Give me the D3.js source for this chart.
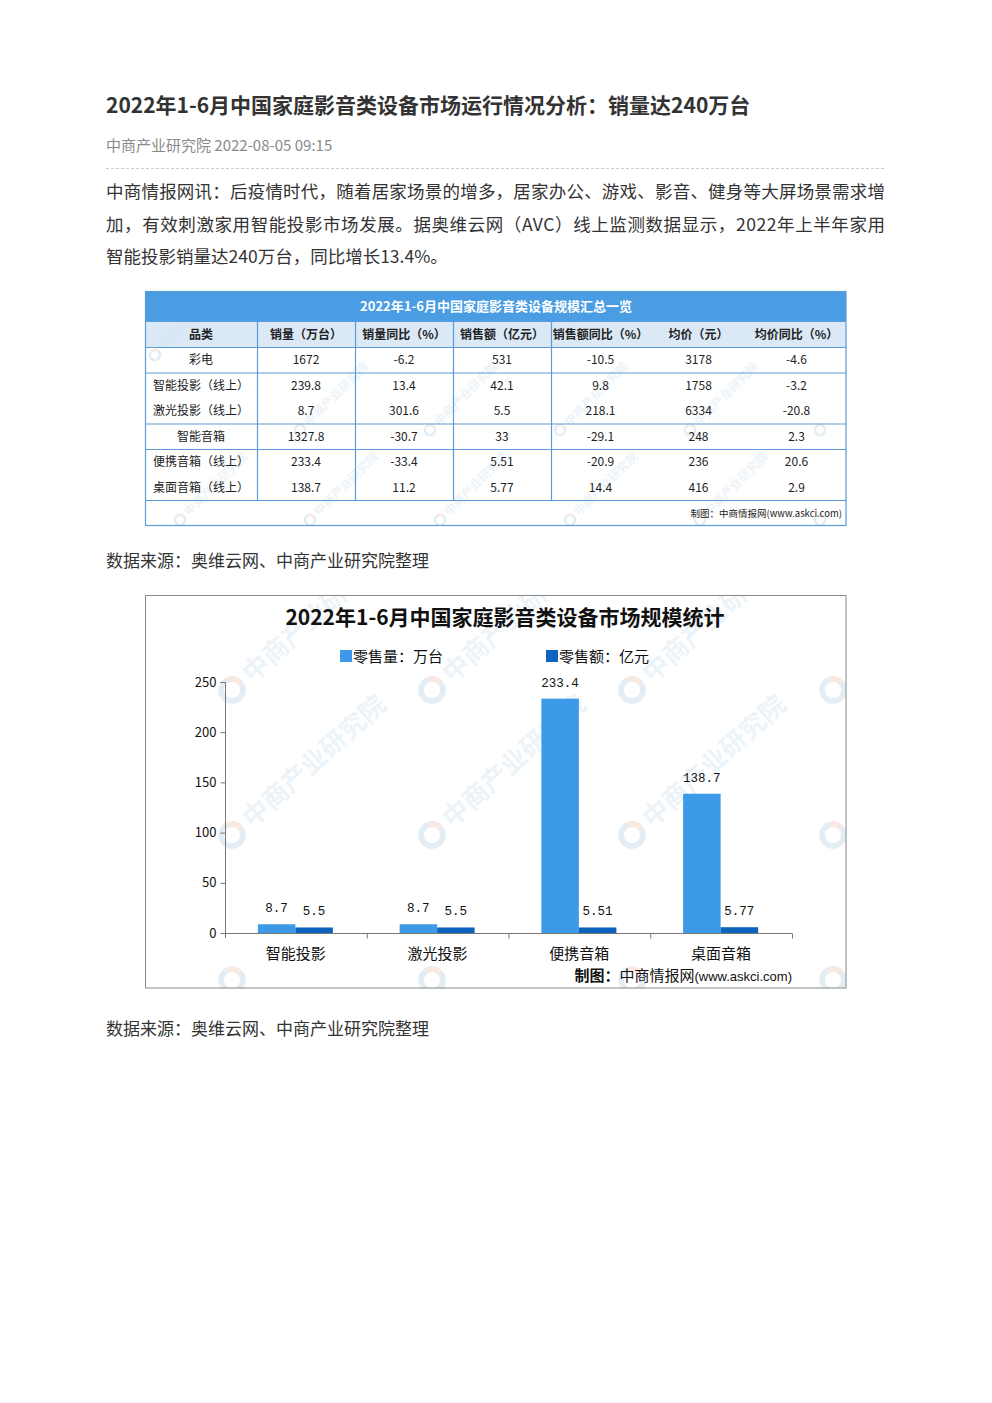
<!DOCTYPE html>
<html>
<head>
<meta charset="utf-8">
<script src="https://cdn.jsdelivr.net/npm/d3@7"></script>
<style>
  body { margin: 0; background: #fff; }
  svg { display: block; }
  .cjk { font-family: "Noto Sans CJK SC", "Noto Sans", sans-serif; }
  .mono { font-family: "Liberation Mono", "DejaVu Sans Mono", monospace; }
</style>
</head>
<body>
<svg id="page" width="992" height="1403"></svg>
<script>
// article text
const articleTitle = "2022年1-6月中国家庭影音类设备市场运行情况分析：销量达240万台";
const articleMeta = "中商产业研究院 2022-08-05 09:15";
const paragraphLines = [
  "中商情报网讯：后疫情时代，随着居家场景的增多，居家办公、游戏、影音、健身等大屏场景需求增",
  "加，有效刺激家用智能投影市场发展。据奥维云网（AVC）线上监测数据显示，2022年上半年家用",
  "智能投影销量达240万台，同比增长13.4%。"
];
const sourceNote = "数据来源：奥维云网、中商产业研究院整理";

// table
const tableTitle = "2022年1-6月中国家庭影音类设备规模汇总一览";
const tableHeaders = ["品类", "销量（万台）", "销量同比（%）", "销售额（亿元）", "销售额同比（%）", "均价（元）", "均价同比（%）"];
const tableRows = [
  ["彩电", "1672", "-6.2", "531", "-10.5", "3178", "-4.6"],
  ["智能投影（线上）", "239.8", "13.4", "42.1", "9.8", "1758", "-3.2"],
  ["激光投影（线上）", "8.7", "301.6", "5.5", "218.1", "6334", "-20.8"],
  ["智能音箱", "1327.8", "-30.7", "33", "-29.1", "248", "2.3"],
  ["便携音箱（线上）", "233.4", "-33.4", "5.51", "-20.9", "236", "20.6"],
  ["桌面音箱（线上）", "138.7", "11.2", "5.77", "14.4", "416", "2.9"]
];
const tableGroups = [[0], [1, 2], [3], [4, 5]];
const tableFooter = "制图：中商情报网(www.askci.com)";

// chart
const chartTitle = "2022年1-6月中国家庭影音类设备市场规模统计";
const categories = ["智能投影", "激光投影", "便携音箱", "桌面音箱"];
const seriesNames = ["零售量：万台", "零售额：亿元"];
const retailVolume = [8.7, 8.7, 233.4, 138.7];
const retailValue = [5.5, 5.5, 5.51, 5.77];
const volumeLabels = ["8.7", "8.7", "233.4", "138.7"];
const valueLabels = ["5.5", "5.5", "5.51", "5.77"];
const yTicks = [0, 50, 100, 150, 200, 250];
const chartCredit = "制图：";
const chartCreditSite = "中商情报网";
const chartCreditUrl = "(www.askci.com)";

const svg = d3.select("#page");
const defs = svg.append("defs");

// ---------- article header ----------
svg.append("text").attr("class", "cjk")
  .attr("x", 106).attr("y", 113)
  .attr("font-size", 21).attr("font-weight", 700).attr("fill", "#333")
  .text(articleTitle);

svg.append("text").attr("class", "cjk")
  .attr("x", 106).attr("y", 151)
  .attr("font-size", 15).attr("fill", "#8a8a8a")
  .text(articleMeta);

svg.append("line")
  .attr("x1", 106).attr("x2", 885).attr("y1", 168.5).attr("y2", 168.5)
  .attr("stroke", "#ccc").attr("stroke-dasharray", "3,2");

svg.selectAll("text.para").data(paragraphLines).enter()
  .append("text").attr("class", "para cjk")
  .attr("x", 106).attr("y", (d, i) => 198 + i * 32.5)
  .attr("font-size", 17.5).attr("fill", "#333")
  .each(function(d, i) {
    if (i < paragraphLines.length - 1) {
      d3.select(this).attr("textLength", 779).attr("lengthAdjust", "spacing");
    }
  })
  .text(d => d);

[567, 1035].forEach(y => {
  svg.append("text").attr("class", "cjk")
    .attr("x", 106).attr("y", y)
    .attr("font-size", 17).attr("fill", "#333")
    .text(sourceNote);
});

// watermark helper
function watermark(g, x, y, size, angle, withText) {
  const w = g.append("g")
    .attr("transform", "translate(" + x + "," + y + ") rotate(" + angle + ")")
    .attr("opacity", 0.4);
  w.append("circle").attr("cx", 0).attr("cy", 0).attr("r", size * 0.42)
    .attr("fill", "none").attr("stroke", "#b9d3e6").attr("stroke-width", size * 0.22);
  w.append("path")
    .attr("d", d3.arc()({innerRadius: size * 0.31, outerRadius: size * 0.53, startAngle: 0.3, endAngle: 1.6}))
    .attr("fill", "#f3c7b6");
  if (withText) {
    w.append("text").attr("class", "cjk")
      .attr("x", size * 0.75).attr("y", size * 0.35)
      .attr("font-size", size).attr("font-weight", 700)
      .attr("fill", "#d2e3f0")
      .text("中商产业研究院");
  }
}

// ---------- table ----------
const tbl = svg.append("g");
const colEdges = [145, 257, 355, 453, 551, 650, 747, 846];
const tTop = 291, titleH = 30, headH = 26, rowH = 25.5;
const tableRowY = tableRows.map((r, i) => tTop + titleH + headH + i * rowH);
const tableBottom = tTop + titleH + headH + tableRows.length * rowH + 25;
const lineColor = "#5a9bd8";

defs.append("clipPath").attr("id", "clipTable")
  .append("rect").attr("x", 145).attr("y", tTop + titleH)
  .attr("width", 701).attr("height", tableBottom - tTop - titleH);

tbl.append("rect").attr("x", 145).attr("y", tTop).attr("width", 701).attr("height", titleH)
  .attr("fill", "#4a9de3");
tbl.append("rect").attr("x", 145).attr("y", tTop + titleH).attr("width", 701).attr("height", headH)
  .attr("fill", "#dbe9f7");

const tblWm = tbl.append("g").attr("clip-path", "url(#clipTable)");
[[155, 355], [300, 430], [430, 430], [560, 430], [690, 430], [820, 430],
 [180, 520], [310, 520], [440, 520], [570, 520], [700, 520], [820, 520]].forEach(p => {
  watermark(tblWm, p[0], p[1], 12, -45, p[0] < 800);
});

tbl.append("text").attr("class", "cjk")
  .attr("x", 496).attr("y", tTop + 20)
  .attr("text-anchor", "middle").attr("font-size", 13).attr("font-weight", 700)
  .attr("fill", "#fff").text(tableTitle);

const colCenter = i => (colEdges[i] + colEdges[i + 1]) / 2;

tbl.selectAll("text.th").data(tableHeaders).enter()
  .append("text").attr("class", "th cjk")
  .attr("x", (d, i) => colCenter(i)).attr("y", tTop + titleH + 17.5)
  .attr("text-anchor", "middle").attr("font-size", 12).attr("font-weight", 700)
  .attr("fill", "#222").text(d => d);

const rowG = tbl.selectAll("g.row").data(tableRows).enter()
  .append("g").attr("class", "row")
  .attr("transform", (d, i) => "translate(0," + tableRowY[i] + ")");

rowG.selectAll("text").data(d => d).enter()
  .append("text").attr("class", "cjk")
  .attr("x", (d, i) => colCenter(i)).attr("y", 17)
  .attr("text-anchor", "middle").attr("font-size", 12)
  .attr("fill", "#222").text(d => d);

// horizontal lines between groups
const hLines = [tTop + titleH, tTop + titleH + headH];
tableGroups.forEach(g => hLines.push(tableRowY[g[g.length - 1]] + rowH));
tbl.selectAll("line.h").data(hLines).enter()
  .append("line").attr("class", "h")
  .attr("x1", 145).attr("x2", 846)
  .attr("y1", d => d + 0.5).attr("y2", d => d + 0.5)
  .attr("stroke", lineColor).attr("stroke-width", 1.2);

// vertical dividers (last three columns have none)
tbl.selectAll("line.v").data(colEdges.slice(1, 5)).enter()
  .append("line").attr("class", "v")
  .attr("x1", d => d + 0.5).attr("x2", d => d + 0.5)
  .attr("y1", tTop + titleH).attr("y2", tableRowY[tableRows.length - 1] + rowH)
  .attr("stroke", lineColor).attr("stroke-width", 1.2);

tbl.append("rect").attr("x", 145.5).attr("y", tTop + 0.5)
  .attr("width", 700.5).attr("height", tableBottom - tTop)
  .attr("fill", "none").attr("stroke", lineColor).attr("stroke-width", 1.2);

tbl.append("text").attr("class", "cjk")
  .attr("x", 842).attr("y", tableBottom - 8)
  .attr("text-anchor", "end").attr("font-size", 9.5).attr("fill", "#222")
  .text(tableFooter);

// ---------- bar chart ----------
const chart = svg.append("g");
const frame = {x: 145.5, y: 595.5, w: 700.5, h: 392.5};

defs.append("clipPath").attr("id", "clipChart")
  .append("rect").attr("x", frame.x).attr("y", frame.y)
  .attr("width", frame.w).attr("height", frame.h);

const wm = chart.append("g").attr("clip-path", "url(#clipChart)");
[232, 432, 632, 833].forEach(x => {
  [690, 835, 980].forEach(y => watermark(wm, x, y, 26, -42, x < 800 && y < 950));
});

const y = d3.scaleLinear().domain([0, 250]).range([933, 682]);
const x = d3.scaleBand().domain(categories).range([225, 792]);
const xSub = d3.scaleBand().domain(seriesNames)
  .range([x.bandwidth() / 2 - 38, x.bandwidth() / 2 + 37]);
const colors = ["#3d9ae8", "#0e63be"];

chart.append("text").attr("class", "cjk")
  .attr("x", 505).attr("y", 625)
  .attr("text-anchor", "middle").attr("font-size", 21).attr("font-weight", 600)
  .attr("fill", "#111").text(chartTitle);

const legendX = [340, 546];
const legend = chart.selectAll("g.legend").data(seriesNames).enter()
  .append("g").attr("class", "legend")
  .attr("transform", (d, i) => "translate(" + legendX[i] + ",650)");
legend.append("rect").attr("width", 12).attr("height", 12)
  .attr("fill", (d, i) => colors[i]);
legend.append("text").attr("class", "cjk")
  .attr("x", 13).attr("y", 11.5).attr("font-size", 15).attr("fill", "#111")
  .text(d => d);

// y axis
const yAxis = d3.axisLeft(y).tickValues(yTicks).tickSize(5).tickPadding(4);
const gY = chart.append("g").attr("transform", "translate(225.5,0)").call(yAxis);
gY.select(".domain").attr("stroke", "#777").attr("d", "M-5,682.5H0V938");
gY.selectAll(".tick line").attr("stroke", "#777");
gY.selectAll(".tick text").attr("class", "cjk").attr("font-size", 13).attr("fill", "#111");

// x axis
const gX = chart.append("g").attr("transform", "translate(0,933.5)");
gX.append("line").attr("x1", 225).attr("x2", 792).attr("stroke", "#777");
gX.selectAll("line.tk").data(categories).enter()
  .append("line").attr("class", "tk")
  .attr("x1", d => x(d) + x.bandwidth() + 0.5).attr("x2", d => x(d) + x.bandwidth() + 0.5)
  .attr("y1", 0).attr("y2", 5).attr("stroke", "#777");
gX.selectAll("text").data(categories).enter()
  .append("text").attr("class", "cjk")
  .attr("x", d => x(d) + x.bandwidth() / 2).attr("y", 25)
  .attr("text-anchor", "middle").attr("font-size", 15).attr("fill", "#111")
  .text(d => d);

// bars
const seriesData = [retailVolume, retailValue];
const seriesLabels = [volumeLabels, valueLabels];
seriesData.forEach((vals, s) => {
  chart.selectAll("rect.s" + s).data(vals).enter()
    .append("rect").attr("class", "s" + s)
    .attr("x", (d, i) => x(categories[i]) + xSub(seriesNames[s]))
    .attr("width", xSub.bandwidth())
    .attr("y", d => y(d))
    .attr("height", d => y(0) - y(d))
    .attr("fill", colors[s]);
  chart.selectAll("text.l" + s).data(vals).enter()
    .append("text").attr("class", "l" + s + " mono")
    .attr("x", (d, i) => x(categories[i]) + xSub(seriesNames[s]) + xSub.bandwidth() / 2)
    .attr("y", d => y(d) - 12)
    .attr("text-anchor", "middle").attr("font-size", 12.5).attr("fill", "#111")
    .text((d, i) => seriesLabels[s][i]);
});

// credit
const credit = chart.append("text").attr("class", "cjk")
  .attr("x", 792).attr("y", 981).attr("text-anchor", "end").attr("fill", "#111");
credit.append("tspan").attr("font-size", 15).attr("font-weight", 700).text(chartCredit);
credit.append("tspan").attr("font-size", 15).text(chartCreditSite);
credit.append("tspan").attr("font-size", 13).attr("font-family", "Liberation Sans, sans-serif").text(chartCreditUrl);

chart.append("rect")
  .attr("x", frame.x).attr("y", frame.y).attr("width", frame.w).attr("height", frame.h)
  .attr("fill", "none").attr("stroke", "#888");
</script>
</body>
</html>
